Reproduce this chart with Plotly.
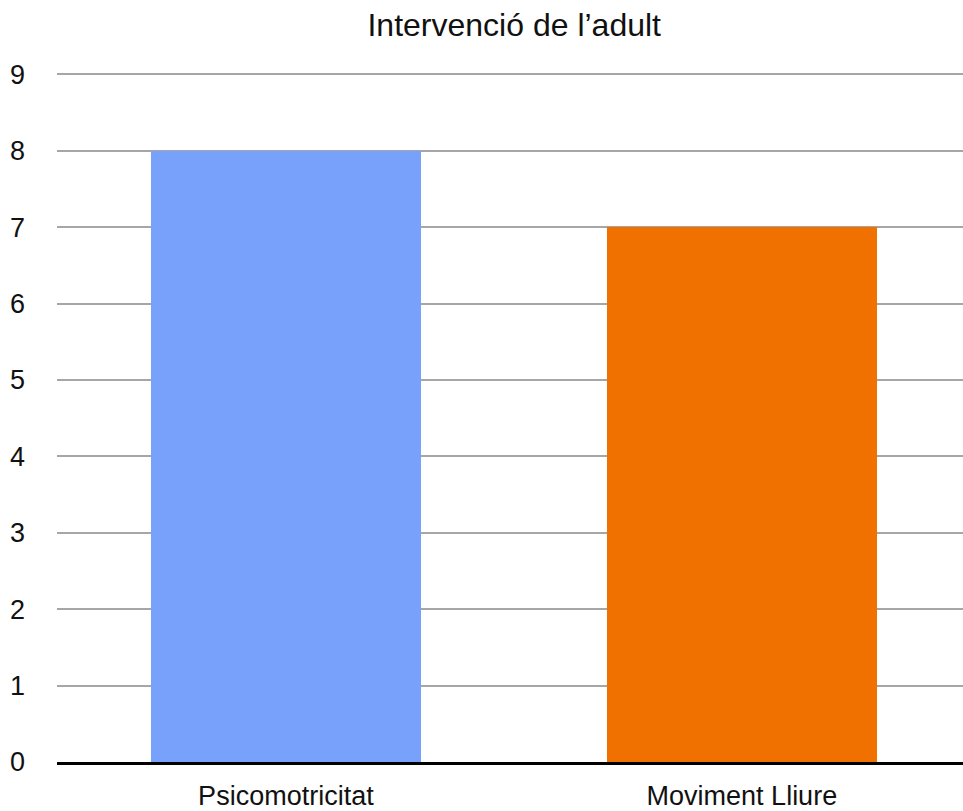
import plotly.graph_objects as go

categories = ["Psicomotricitat", "Moviment Lliure"]
values = [8, 7]
bar_colors = ["#78A1FB", "#F07100"]
title_text = "Intervenció de l’adult"
y_ticks = list(range(0, 10))

fig = go.Figure()
fig.add_trace(go.Bar(
    x=[0, 1], y=values, marker=dict(color=bar_colors, line=dict(width=0)),
    width=0.592, showlegend=False, hoverinfo="skip",
))

font_family = "Liberation Sans, Arial, sans-serif"
fig.update_layout(
    width=963, height=811, autosize=False,
    paper_bgcolor="white", plot_bgcolor="white",
    margin=dict(l=57, r=0, t=72, b=48),
    title=dict(text=title_text, x=0.534, xanchor="center", y=0.969, yanchor="middle",
               font=dict(family=font_family, size=32, color="#111111")),
    font=dict(family=font_family, size=27, color="#111111"),
    xaxis=dict(
        range=[-0.502, 1.485], tickmode="array", tickvals=[0, 1], ticktext=categories,
        showgrid=False, zeroline=False, showline=True, linecolor="black", linewidth=2.5,
        ticks="", tickfont=dict(size=27), ticklabelstandoff=8,
    ),
    yaxis=dict(
        range=[0, 9.03], tickmode="array", tickvals=y_ticks, ticktext=[str(v) for v in y_ticks],
        showgrid=True, gridcolor="#A6A6A6", gridwidth=1.6,
        zeroline=False, showline=False, ticks="",
        tickfont=dict(size=27), ticklabelstandoff=31,
    ),
    bargap=0,
)

post = ("document.body.style.margin='0';document.body.style.overflow='hidden';"
        "Plotly.relayout('{plot_id}', {width: 963, height: 811});")
fig.write_html("out.html", post_script=post,
               config={"responsive": False, "displayModeBar": False})
